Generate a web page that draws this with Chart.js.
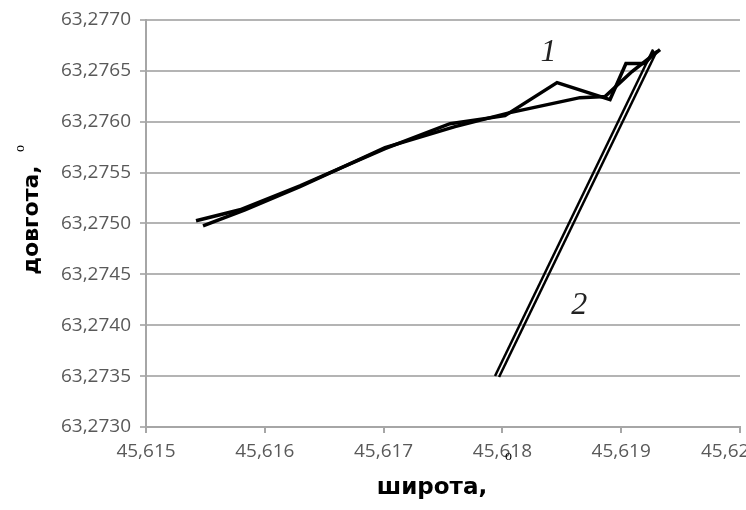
<!DOCTYPE html>
<html>
<head>
<meta charset="utf-8">
<script src="https://cdn.jsdelivr.net/npm/chart.js@4.4.1/dist/chart.umd.min.js"></script>
<style>
  html, body { margin: 0; padding: 0; background: #fff; }
  #wrap { width: 746px; height: 510px; position: relative; }
</style>
</head>
<body>
<div id="wrap"><canvas id="c" width="746" height="510"></canvas></div>
<script>
// ---- data (latitude, longitude) ----
const track1aLat = [45.615421, 45.615791, 45.616296, 45.617012, 45.617559, 45.618022, 45.618460, 45.618906, 45.619040, 45.619200, 45.619285];
const track1aLon = [63.275027, 63.275135, 63.275371, 63.275735, 63.275981, 63.276060, 63.276385, 63.276218, 63.276572, 63.276572, 63.276690];
const track1bLat = [45.615480, 45.615833, 45.616296, 45.617012, 45.617601, 45.618064, 45.618653, 45.618864, 45.619091, 45.619327];
const track1bLon = [63.274977, 63.275135, 63.275361, 63.275745, 63.275952, 63.276090, 63.276237, 63.276247, 63.276493, 63.276710];
const track2aLat = [45.617938, 45.619268];
const track2aLon = [63.273501, 63.276710];
const track2bLat = [45.617972, 45.619302];
const track2bLon = [63.273491, 63.276700];
const xTickLabels = ['45,615', '45,616', '45,617', '45,618', '45,619', '45,62'];
const yTickLabels = ['63,2730', '63,2735', '63,2740', '63,2745', '63,2750', '63,2755', '63,2760', '63,2765', '63,2770'];
const xTitle = 'широта,';
const yTitle = 'довгота,';
const curveLabels = [{ text: '1', lat: 45.618389, lon: 63.276680 }, { text: '2', lat: 45.618646, lon: 63.274190 }];

const toPts = (xs, ys) => xs.map((x, i) => ({ x: x, y: ys[i] }));
const xMin = 45.615, xStep = 0.001, yMin = 63.273, yStep = 0.0005;

const lineDs = (lat, lon, w) => ({
  data: toPts(lat, lon), showLine: true, borderColor: '#000', borderWidth: w,
  pointRadius: 0, fill: false, tension: 0, borderJoinStyle: 'miter'
});

const overlay = {
  id: 'overlay',
  beforeDraw(chart) {
    const ctx = chart.ctx;
    ctx.save(); ctx.fillStyle = '#fff'; ctx.fillRect(0, 0, chart.width, chart.height); ctx.restore();
  },
  afterDraw(chart) {
    const ctx = chart.ctx, xs = chart.scales.x, ys = chart.scales.y;
    ctx.save();
    // curve labels
    ctx.fillStyle = '#222';
    ctx.font = 'italic 32px "Liberation Serif"';
    ctx.textAlign = 'center'; ctx.textBaseline = 'middle';
    curveLabels.forEach(l => ctx.fillText(l.text, xs.getPixelForValue(l.lat), ys.getPixelForValue(l.lon)));
    // x title
    ctx.fillStyle = '#000';
    ctx.font = 'bold 23px "DejaVu Sans"';
    ctx.textAlign = 'center'; ctx.textBaseline = 'alphabetic';
    ctx.fillText(xTitle, 432, 494);
    ctx.font = '14px "Liberation Serif"';
    ctx.textAlign = 'left';
    ctx.fillText('o', 505, 460);
    // y title
    ctx.translate(38, 220);
    ctx.rotate(-Math.PI / 2);
    ctx.font = 'bold 22px "DejaVu Sans"';
    ctx.textAlign = 'center';
    ctx.fillText(yTitle, 0, 0);
    ctx.font = '14px "Liberation Serif"';
    ctx.textAlign = 'left';
    ctx.fillText('o', 68, -14);
    ctx.restore();
  }
};

new Chart(document.getElementById('c'), {
  type: 'scatter',
  data: {
    datasets: [
      lineDs(track1aLat, track1aLon, 3.5),
      lineDs(track1bLat, track1bLon, 3.5),
      lineDs(track2aLat, track2aLon, 2.5),
      lineDs(track2bLat, track2bLon, 2.5)
    ]
  },
  options: {
    responsive: false, animation: false, devicePixelRatio: 1,
    layout: { padding: { top: 20, right: 6, left: 0, bottom: 0 } },
    plugins: { legend: { display: false }, tooltip: { enabled: false } },
    scales: {
      x: {
        type: 'linear', min: 45.615, max: 45.62,
        afterBuildTicks(s) { s.ticks = xTickLabels.map((t, i) => ({ value: xMin + i * xStep })); },
        afterFit(s) { s.height = 83; s.paddingLeft = 0; s.paddingRight = 0; },
        ticks: {
          autoSkip: false, maxRotation: 0, padding: 7, color: '#595959',
          font: { family: '"Open Sans"', size: 19 },
          callback: (v, i) => i === xTickLabels.length - 1 ? xTickLabels[i] + '      ' : xTickLabels[i]
        },
        grid: { display: true, drawOnChartArea: false, drawTicks: true, tickLength: 6, color: '#a6a6a6', lineWidth: 2 },
        border: { display: true, color: '#a6a6a6', width: 2 }
      },
      y: {
        type: 'linear', min: 63.273, max: 63.277,
        afterBuildTicks(s) { s.ticks = yTickLabels.map((t, i) => ({ value: yMin + i * yStep })); },
        afterFit(s) { s.width = 146; s.paddingTop = 0; s.paddingBottom = 0; },
        ticks: {
          autoSkip: false, padding: 9, color: '#595959',
          font: { family: '"Open Sans"', size: 19 },
          callback: (v, i) => yTickLabels[i]
        },
        grid: { color: '#b4b4b4', lineWidth: 2, tickLength: 6, drawTicks: true },
        border: { display: true, color: '#a6a6a6', width: 2 }
      }
    }
  },
  plugins: [overlay]
});
</script>
</body>
</html>
